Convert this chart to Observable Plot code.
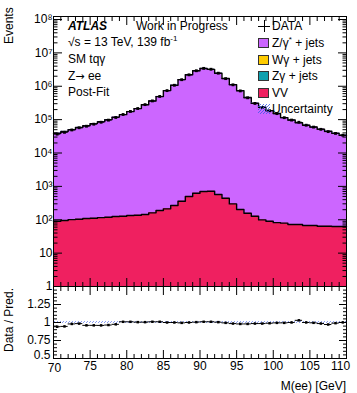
<!DOCTYPE html>
<html><head><meta charset="utf-8">
<script src="https://cdn.jsdelivr.net/npm/d3@7"></script>
<script src="https://cdn.jsdelivr.net/npm/@observablehq/plot@0.6"></script>
<style>
body{margin:0;background:#fff;font-family:"Liberation Sans",Arial,Helvetica,sans-serif;}
#wrap{position:relative;width:357px;height:393px;overflow:hidden;background:#fff;}
#wrap svg.plt{position:absolute;left:0;overflow:visible;background:transparent;}
.t{position:absolute;font-size:12px;white-space:nowrap;line-height:12px;color:#000;}
.t sup{font-size:8px;vertical-align:5px;line-height:0;}
.arr{font-family:"DejaVu Sans",sans-serif;font-size:11px;}
.box{position:absolute;width:11px;height:10px;border:1px solid #333;box-sizing:border-box;}
</style></head><body>
<svg width="0" height="0" style="position:absolute">
  <defs>
    <pattern id="hatch" patternUnits="userSpaceOnUse" width="3" height="3">
      <path d="M-1,1 L1,-1 M0,3 L3,0 M2,4 L4,2" stroke="#3a5ae8" stroke-width="0.8"/>
    </pattern>
  </defs>
</svg>
<div id="wrap"></div>
<script>
// ---- data ----
const binLo = [70,71,72,73,74,75,76,77,78,79,80,81,82,83,84,85,86,87,88,89,90,91,92,93,94,95,96,97,98,99,100,101,102,103,104,105,106,107,108,109];
const binHi = [71,72,73,74,75,76,77,78,79,80,81,82,83,84,85,86,87,88,89,90,91,92,93,94,95,96,97,98,99,100,101,102,103,104,105,106,107,108,109,110];
const vv = [90,95,101,104,109,111,116,119,125,127,134,136,143,161,189,212,266,358,495,621,705,715,568,440,299,202,157,127,99,90,82,79,72,72,67,67,64,64,63,63];
const zjets = [38900,43900,49900,57900,65900,75900,86900,99900,118900,140900,173900,213900,279900,359800,489800,739800,1069700,1579600,2199500,2899400,3399300,3199300,2449400,1699600,1119700,739800,459800,309900,234900,185900,151900,114900,96900,80900,67900,59900,51900,44900,38900,33900];
const dataEv = [36700,41600,49000,57100,63400,73000,83500,96500,116000,142400,175700,215100,281400,363600,494900,740000,1070000,1572000,2200000,2914500,3434000,3232000,2462000,1691500,1103200,725200,450800,305400,231500,184100,151200,114400,97000,83400,68000,59700,51200,43700,38600,34000];
const relUnc = 0.012;
const xMajor = [70,75,80,85,90,95,100,105,110];
const xMinor = [71,72,73,74,76,77,78,79,81,82,83,84,86,87,88,89,91,92,93,94,96,97,98,99,101,102,103,104,106,107,108,109];
const yDecades = [1,10,100,1e3,1e4,1e5,1e6,1e7,1e8];
const yDecadeLabels = ["1","10","10²","10³","10⁴","10⁵","10⁶","10⁷","10⁸"];
const rMajor = [0.5,0.75,1,1.25,1.5];
const rLabels = [0.75,1,1.25];
const colZ = "#cc66ff", colW = "#ffcc00", colZg = "#0fa0ae", colVV = "#ef2060";

// ---- derived tables ----
const bins = binLo.map((lo,i)=>{
  const total = vv[i]+zjets[i];
  const d = dataEv[i];
  return {lo, hi: binHi[i], c:(lo+binHi[i])/2, base:1, vv:vv[i], total, data:d,
    dlo:d-Math.sqrt(d), dhi:d+Math.sqrt(d),
    r:d/total, rlo:(d-Math.sqrt(d))/total, rhi:(d+Math.sqrt(d))/total,
    ulo:1-relUnc, uhi:1+relUnc, tlo:total*(1-relUnc), thi:total*(1+relUnc)};
});
const stepPts = (key)=> bins.map(b=>({x:b.lo,y:b[key],base:1,ulo:b.ulo,uhi:b.uhi,tlo:b.tlo,thi:b.thi}))
  .concat([{...bins[bins.length-1], x:bins[bins.length-1].hi, y:bins[bins.length-1][key]}]);
const yMinor = [];
for (const d of yDecades.slice(0,-1)) for (let k=2;k<=9;k++) yMinor.push(d*k);
const rMinor = [];
for (let v=0.55; v<1.5; v+=0.05) { const q=Math.round(v*100)/100; if (!rMajor.includes(q)) rMinor.push(q); }

const font = "Liberation Sans, Arial, Helvetica, sans-serif";
const blank = ()=>"";
const tickAxes = (dir, anchor, ticks, size) =>
  (dir==="x"?Plot.axisX:Plot.axisY)({anchor, ticks, tickSize:-size, tickFormat:blank, stroke:"#000", strokeWidth:1});

const main = Plot.plot({
  width:357, height:290, marginLeft:53, marginRight:11, marginTop:16, marginBottom:4,
  style:{background:"transparent", overflow:"visible", fontFamily:font},
  x:{domain:[70,110], axis:null},
  y:{type:"log", domain:[1,1.23e8], axis:null},
  marks:[
    Plot.areaY(stepPts("total"),{x:"x",y1:"base",y2:"y",curve:"step-after",fill:colZ}),
    Plot.areaY(stepPts("vv"),{x:"x",y1:"base",y2:"y",curve:"step-after",fill:colVV}),
    Plot.line(stepPts("vv"),{x:"x",y:"y",curve:"step-after",stroke:"#000",strokeWidth:1.4}),
    Plot.line(stepPts("total"),{x:"x",y:"y",curve:"step-after",stroke:"#000",strokeWidth:1.4}),
    Plot.areaY(stepPts("total"),{x:"x",y1:"tlo",y2:"thi",curve:"step-after",fill:"url(#hatch)"}),
    Plot.ruleY(bins,{x1:"lo",x2:"hi",y:"data",stroke:"#000",strokeWidth:1}),
    Plot.ruleX(bins,{x:"c",y1:"dlo",y2:"dhi",stroke:"#000",strokeWidth:1}),
    Plot.dot(bins,{x:"c",y:"data",symbol:"square",r:1.6,fill:"#000",stroke:null}),
    tickAxes("y","left",yDecades,9), tickAxes("y","left",yMinor,4.5),
    tickAxes("y","right",yDecades,9), tickAxes("y","right",yMinor,4.5),
    tickAxes("x","top",xMajor,8), tickAxes("x","top",xMinor,4),
    tickAxes("x","bottom",xMajor,8), tickAxes("x","bottom",xMinor,4),
    Plot.axisY({anchor:"left", ticks:yDecades, tickSize:0, tickPadding:1,
      tickFormat:(d)=>yDecadeLabels[yDecades.indexOf(d)], fontSize:12, fill:"#000"}),
    Plot.frame({stroke:"#000", strokeWidth:1})
  ]
});
main.classList.add("plt"); main.style.top="0px";

const ratio = Plot.plot({
  width:357, height:113, marginLeft:53, marginRight:11, marginTop:6, marginBottom:35,
  style:{background:"transparent", overflow:"visible", fontFamily:font},
  x:{domain:[70,110], axis:null},
  y:{domain:[0.5,1.5], axis:null},
  marks:[
    Plot.areaY(stepPts("r"),{x:"x",y1:"ulo",y2:"uhi",curve:"step-after",fill:"url(#hatch)"}),
    Plot.ruleY(bins,{x1:"lo",x2:"hi",y:"r",stroke:"#000",strokeWidth:1}),
    Plot.ruleX(bins,{x:"c",y1:"rlo",y2:"rhi",stroke:"#000",strokeWidth:1}),
    Plot.dot(bins,{x:"c",y:"r",symbol:"square",r:1.4,fill:"#000",stroke:null}),
    tickAxes("y","left",rMajor,8), tickAxes("y","left",rMinor,4),
    tickAxes("y","right",rMajor,8), tickAxes("y","right",rMinor,4),
    tickAxes("x","top",xMajor,8), tickAxes("x","top",xMinor,4),
    tickAxes("x","bottom",xMajor,8), tickAxes("x","bottom",xMinor,4),
    Plot.axisY({anchor:"left", ticks:rLabels, tickSize:0, tickPadding:3, tickFormat:d=>String(d), fontSize:12, fill:"#000"}),
    Plot.axisY({anchor:"left", ticks:[0.5], tickSize:0, tickPadding:3, dy:-3, tickFormat:d=>String(d), fontSize:12, fill:"#000"}),
    Plot.axisX({anchor:"bottom", ticks:xMajor.slice(1,-1), tickSize:0, tickPadding:3, tickFormat:d=>String(d), fontSize:12, fill:"#000"}),
    Plot.axisX({anchor:"bottom", ticks:xMajor.slice(0,1), tickSize:0, tickPadding:5, dx:1, tickFormat:d=>String(d), fontSize:12, fill:"#000"}),
    Plot.axisX({anchor:"bottom", ticks:xMajor.slice(-1), tickSize:0, tickPadding:3, dx:-6, tickFormat:d=>String(d), fontSize:12, fill:"#000"}),
    Plot.frame({stroke:"#000", strokeWidth:1})
  ]
});
ratio.classList.add("plt"); ratio.style.top="280px";

const wrap = document.getElementById("wrap");
wrap.appendChild(main); wrap.appendChild(ratio);

function addText(html, x, y, extra){
  const d=document.createElement("div"); d.className="t"; d.innerHTML=html;
  d.style.left=x+"px"; d.style.top=y+"px"; if(extra) Object.assign(d.style, extra);
  wrap.appendChild(d); return d;
}
// annotations
addText("ATLAS",68,20,{fontWeight:"bold",fontStyle:"italic"});
addText("Work in Progress",136,20);
addText("√s = 13 TeV, 139 fb<sup>-1</sup>",68,36);
addText("SM tqγ",68,53);
addText('Z<span class="arr">→</span> ee',68,70);
addText("Post-Fit",68,86);
// axis titles
addText("Events",0,0,{transformOrigin:"0 0",transform:"rotate(-90deg)",left:"3px",top:"44px"});
addText("Data / Pred.",0,0,{transformOrigin:"0 0",transform:"rotate(-90deg)",left:"3px",top:"352px"});
addText("M(ee) [GeV]",0,380,{right:"11px",left:"auto"});
// legend
const legendItems = [
  {label:"DATA", kind:"data"},
  {label:"Z/γ<sup>*</sup> + jets", color:colZ},
  {label:"Wγ + jets", color:colW},
  {label:"Zγ + jets", color:colZg},
  {label:"VV", color:colVV},
  {label:"Uncertainty", kind:"unc"}
];
const rowY = [26,43,60,76,93,109];
legendItems.forEach((it,i)=>{
  const cy=rowY[i];
  if(it.kind==="data"){
    const h=document.createElement("div");
    h.style.cssText=`position:absolute;left:258px;top:${cy}px;width:12px;height:1px;background:#000`;
    const v=document.createElement("div");
    v.style.cssText=`position:absolute;left:264px;top:${cy-6}px;width:1px;height:12px;background:#000`;
    wrap.appendChild(h); wrap.appendChild(v);
  } else if(it.kind==="unc"){
    const s=document.createElementNS("http://www.w3.org/2000/svg","svg");
    s.setAttribute("width","12"); s.setAttribute("height","10");
    s.style.cssText=`position:absolute;left:258px;top:${cy-5}px`;
    s.innerHTML='<rect width="12" height="10" fill="url(#hatch)"/>';
    wrap.appendChild(s);
  } else {
    const b=document.createElement("div"); b.className="box";
    b.style.left="258px"; b.style.top=(cy-5)+"px"; b.style.background=it.color;
    wrap.appendChild(b);
  }
  addText(it.label,272,cy-6);
});
</script>
</body></html>
